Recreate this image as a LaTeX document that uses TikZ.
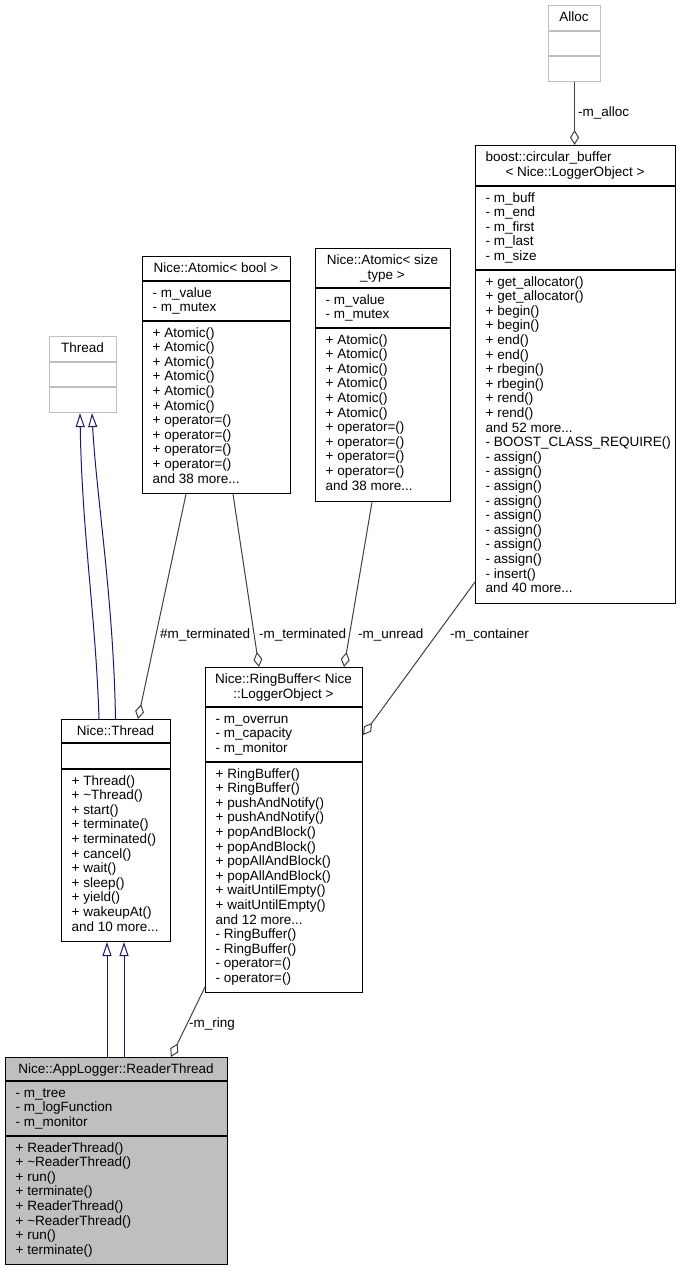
\documentclass[tikz,border=0pt]{standalone}
\usepackage{fontspec}
\setmainfont{Liberation Sans}
\usetikzlibrary{arrows.meta}
\definecolor{grey75}{HTML}{BFBFBF}
\definecolor{grey25}{HTML}{404040}
\definecolor{navy}{HTML}{191970}
\newcommand{\moredots}{...}

\begin{document}
\begin{tikzpicture}[x=1pt,y=-1pt,
  font=\fontsize{13.5}{14.6}\selectfont,
  cls/.style={draw=black, line width=1.1pt, anchor=north west, inner sep=0pt},
  row/.style={anchor=base west, inner sep=0pt},
  ttl/.style={anchor=base, inner sep=0pt},
  lbl/.style={anchor=base west, inner sep=0pt},
  hasa/.style={draw=grey25, line width=1pt, -{Diamond[open, length=15pt, width=9pt]}},
  isa/.style={draw=navy, line width=1pt, {Triangle[open, length=14pt, width=9pt]}-}]
\useasboundingbox (0,0) rectangle (680,1271);

% Alloc
\node[cls, draw=grey75, minimum width=52pt, minimum height=76pt] (alloc) at (548,5) {};
\draw[grey75, line width=1.1pt] (548,31) -- (600,31) (548,56) -- (600,56);
\node[ttl] (alloc-t) at (574,21.5) {Alloc};

% boost::circular_buffer
\node[cls, minimum width=200pt, minimum height=458pt] (cbuf) at (475,145) {};
\draw[line width=1.1pt] (475,186) -- (675,186) (475,270) -- (675,270);
\node[row] (cbuf-t1) at (485.5,161.5) {boost::circular\_buffer};
\node[ttl] (cbuf-t2) at (575,176) {< Nice::LoggerObject >};
\foreach \t [count=\i] in {- m\_buff,- m\_end,- m\_first,- m\_last,- m\_size}
  \node[row] (cbuf-a\i) at (485.5,{186+1.4+14.6*\i}) {\t};
\foreach \t [count=\i] in {+ get\_allocator(),+ get\_allocator(),+ begin(),+ begin(),
    + end(),+ end(),+ rbegin(),+ rbegin(),+ rend(),+ rend(),and 52 more\moredots,
    - BOOST\_CLASS\_REQUIRE(),- assign(),- assign(),- assign(),- assign(),
    - assign(),- assign(),- assign(),- assign(),- insert(),and 40 more\moredots}
  \node[row] (cbuf-f\i) at (485.5,{270+1.4+14.6*\i}) {\t};

% Nice::Atomic< bool >
\node[cls, minimum width=148pt, minimum height=237pt] (atomb) at (142,256) {};
\draw[line width=1.1pt] (142,281) -- (290,281) (142,321) -- (290,321);
\node[ttl] (atomb-t) at (216,272.5) {Nice::Atomic< bool >};
\foreach \t [count=\i] in {- m\_value,- m\_mutex}
  \node[row] (atomb-a\i) at (152.5,{281+1.4+14.6*\i}) {\t};
\foreach \t [count=\i] in {+ Atomic(),+ Atomic(),+ Atomic(),+ Atomic(),+ Atomic(),
    + Atomic(),+ operator=(),+ operator=(),+ operator=(),+ operator=(),and 38 more\moredots}
  \node[row] (atomb-f\i) at (152.5,{321+1.4+14.6*\i}) {\t};

% Nice::Atomic< size_type >
\node[cls, minimum width=135pt, minimum height=253pt] (atoms) at (315,248) {};
\draw[line width=1.1pt] (315,288) -- (450,288) (315,328) -- (450,328);
\node[ttl] (atoms-t1) at (382.5,264.5) {Nice::Atomic< size};
\node[ttl] (atoms-t2) at (382.5,279) {\_type >};
\foreach \t [count=\i] in {- m\_value,- m\_mutex}
  \node[row] (atoms-a\i) at (325.5,{288+1.4+14.6*\i}) {\t};
\foreach \t [count=\i] in {+ Atomic(),+ Atomic(),+ Atomic(),+ Atomic(),+ Atomic(),
    + Atomic(),+ operator=(),+ operator=(),+ operator=(),+ operator=(),and 38 more\moredots}
  \node[row] (atoms-f\i) at (325.5,{328+1.4+14.6*\i}) {\t};

% Thread
\node[cls, draw=grey75, minimum width=67pt, minimum height=76pt] (thread) at (49,336) {};
\draw[grey75, line width=1.1pt] (49,362) -- (116,362) (49,387) -- (116,387);
\node[ttl] (thread-t) at (82.5,352.5) {Thread};

% Nice::Thread
\node[cls, minimum width=109pt, minimum height=222pt] (nthr) at (61,719) {};
\draw[line width=1.1pt] (61,743) -- (170,743) (61,769) -- (170,769);
\node[ttl] (nthr-t) at (115.5,735.5) {Nice::Thread};
\foreach \t [count=\i] in {+ Thread(),+ \textasciitilde Thread(),+ start(),+ terminate(),
    + terminated(),+ cancel(),+ wait(),+ sleep(),+ yield(),+ wakeupAt(),and 10 more\moredots}
  \node[row] (nthr-f\i) at (71.5,{769+1.4+14.6*\i}) {\t};

% Nice::RingBuffer< Nice::LoggerObject >
\node[cls, minimum width=157pt, minimum height=325pt] (ring) at (205,667) {};
\draw[line width=1.1pt] (205,707) -- (362,707) (205,762) -- (362,762);
\node[ttl] (ring-t1) at (283.5,683.5) {Nice::RingBuffer< Nice};
\node[ttl] (ring-t2) at (283.5,698) {::LoggerObject >};
\foreach \t [count=\i] in {- m\_overrun,- m\_capacity,- m\_monitor}
  \node[row] (ring-a\i) at (215.5,{707+1.4+14.6*\i}) {\t};
\foreach \t [count=\i] in {+ RingBuffer(),+ RingBuffer(),+ pushAndNotify(),+ pushAndNotify(),
    + popAndBlock(),+ popAndBlock(),+ popAllAndBlock(),+ popAllAndBlock(),
    + waitUntilEmpty(),+ waitUntilEmpty(),and 12 more\moredots,- RingBuffer(),
    - RingBuffer(),- operator=(),- operator=()}
  \node[row] (ring-f\i) at (215.5,{762+1.4+14.6*\i}) {\t};

% Nice::AppLogger::ReaderThread
\node[cls, fill=grey75, minimum width=222pt, minimum height=207pt] (reader) at (5,1057) {};
\draw[line width=1.1pt] (5,1081) -- (227,1081) (5,1136) -- (227,1136);
\node[ttl] (reader-t) at (116,1073.5) {Nice::AppLogger::ReaderThread};
\foreach \t [count=\i] in {- m\_tree,- m\_logFunction,- m\_monitor}
  \node[row] (reader-a\i) at (15.5,{1081+1.4+14.6*\i}) {\t};
\foreach \t [count=\i] in {+ ReaderThread(),+ \textasciitilde ReaderThread(),+ run(),+ terminate(),
    + ReaderThread(),+ \textasciitilde ReaderThread(),+ run(),+ terminate()}
  \node[row] (reader-f\i) at (15.5,{1136+1.4+14.6*\i}) {\t};

% inheritance
\draw[isa] ([xshift=31pt]thread.south west) .. controls +(2,120) and +(-3,-100) .. ([xshift=38pt]nthr.north west);
\draw[isa] ([xshift=43pt]thread.south west) .. controls +(4,80) and +(-2,-120) .. ([xshift=54.5pt]nthr.north west);
\draw[isa] ([xshift=46pt]nthr.south west) -- ([xshift=102pt]reader.north west);
\draw[isa] ([xshift=63pt]nthr.south west) -- ([xshift=119pt]reader.north west);

% members
\draw[hasa] (alloc.south) -- (alloc.south |- cbuf.north);
\draw[hasa] ([xshift=44pt]atomb.south west) -- ([xshift=77pt]nthr.north west);
\draw[hasa] ([xshift=91pt]atomb.south west) -- ([xshift=54pt]ring.north west);
\draw[hasa] ([xshift=57pt]atoms.south west) -- ([xshift=139pt]ring.north west);
\draw[hasa] ([yshift=-437pt]cbuf.north west) -- ([yshift=-68pt]ring.north east);
\draw[hasa] ([yshift=-320pt]ring.north west) -- ([xshift=166pt]reader.north west);

\node[lbl] (l-alloc) at (578,117) {-m\_alloc};
\node[lbl] (l-term1) at (160,638) {\#m\_terminated};
\node[lbl] (l-term2) at (259,638) {-m\_terminated};
\node[lbl] (l-unread) at (358,638) {-m\_unread};
\node[lbl] (l-cont) at (450,638) {-m\_container};
\node[lbl] (l-ring) at (189,1027) {-m\_ring};
\end{tikzpicture}
\end{document}
